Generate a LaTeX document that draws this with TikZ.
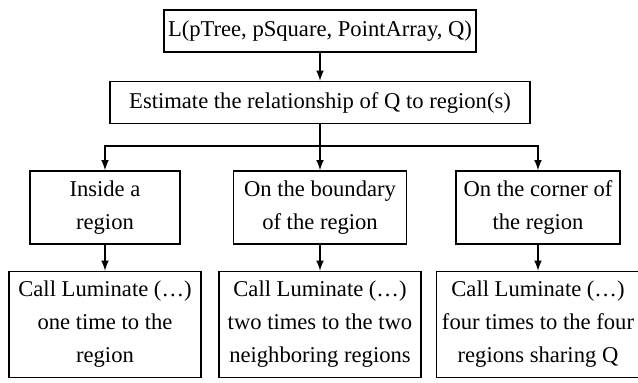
\documentclass[tikz,border=0pt]{standalone}
\usepackage{fontspec}
\setmainfont{Liberation Serif}
\usepackage{tikz}
\usetikzlibrary{arrows, positioning}

\begin{document}
\begin{tikzpicture}[
    font=\fontsize{11.3}{16.5}\selectfont,
    box/.style={rectangle, draw, line width=0.75pt, align=center, inner sep=2pt},
    cond/.style={box, minimum height=36.5pt},
    action/.style={box, minimum height=53pt},
    arrow/.style={->, >=latex, line width=0.75pt}
]
\useasboundingbox (0pt,0pt) rectangle (319pt,-191.5pt);

% Entry and test
\node[box, minimum width=154pt, minimum height=21pt] (entry) at (160pt,-15.5pt) {L(pTree, pSquare, PointArray, Q)};
\node[box, minimum width=210pt, minimum height=21pt, below=14pt of entry] (estimate) {Estimate the relationship of Q to region(s)};

% Cases
\node[cond, minimum width=75pt, below=23pt of estimate, xshift=-107.5pt] (inside) {Inside a\\region};
\node[cond, minimum width=86.5pt, below=23pt of estimate] (boundary) {On the boundary\\of the region};
\node[cond, minimum width=82pt, below=23pt of estimate, xshift=109pt] (corner) {On the corner of\\the region};

% Calls
\node[action, minimum width=96pt, below=13pt of inside] (callone) {Call Luminate (\ldots)\\one time to the\\region};
\node[action, minimum width=101pt, below=13pt of boundary] (calltwo) {Call Luminate (\ldots)\\two times to the two\\neighboring regions};
\node[action, minimum width=101.5pt, below=13pt of corner] (callfour) {Call Luminate (\ldots)\\four times to the four\\regions sharing Q};

% Arrows
\draw[arrow] (entry) -- (estimate);
\draw[arrow] (estimate) -- (boundary);
\draw[arrow] (estimate.south) -- ++(0,-11pt) -| (inside.north);
\draw[arrow] (estimate.south) -- ++(0,-11pt) -| (corner.north);
\draw[arrow] (inside) -- (callone);
\draw[arrow] (boundary) -- (calltwo);
\draw[arrow] (corner) -- (callfour);

\end{tikzpicture}
\end{document}
